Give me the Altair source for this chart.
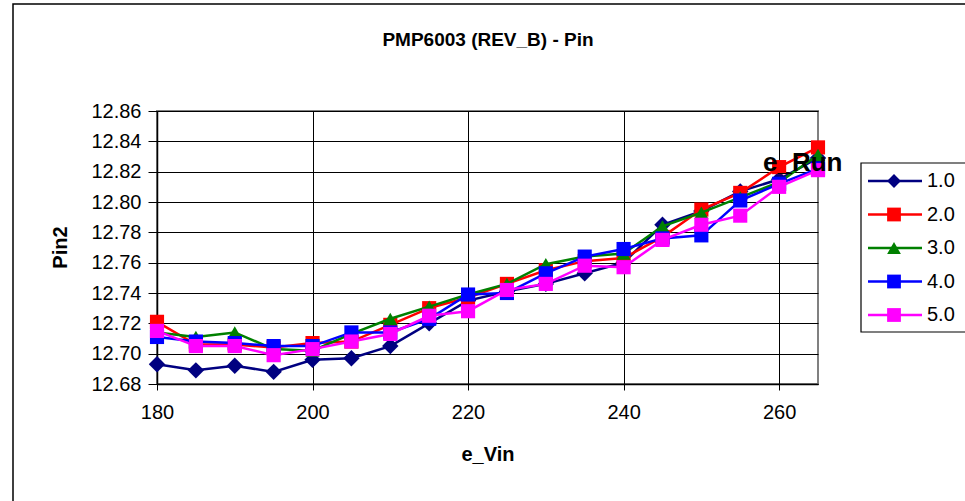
import altair as alt
import pandas as pd

vin = [180, 185, 190, 195, 200, 205, 210, 215, 220, 225, 230, 235, 240, 245, 250, 255, 260, 265]
run1 = [12.693, 12.689, 12.692, 12.688, 12.696, 12.697, 12.705, 12.720, 12.735, 12.741, 12.746, 12.753, 12.760, 12.785, 12.794, 12.807, 12.815, 12.829]
run2 = [12.721, 12.706, 12.706, 12.704, 12.707, 12.708, 12.719, 12.730, 12.737, 12.746, 12.755, 12.761, 12.763, 12.777, 12.795, 12.806, 12.823, 12.836]
run3 = [12.714, 12.711, 12.714, 12.703, 12.702, 12.713, 12.723, 12.731, 12.739, 12.746, 12.759, 12.764, 12.766, 12.784, 12.793, 12.803, 12.813, 12.831]
run4 = [12.711, 12.708, 12.707, 12.705, 12.705, 12.714, 12.714, 12.723, 12.739, 12.740, 12.753, 12.764, 12.769, 12.776, 12.778, 12.801, 12.812, 12.822]
run5 = [12.715, 12.705, 12.705, 12.699, 12.703, 12.708, 12.713, 12.725, 12.728, 12.742, 12.746, 12.758, 12.757, 12.775, 12.785, 12.791, 12.810, 12.821]

labels = ["1.0", "2.0", "3.0", "4.0", "5.0"]
colors = ["#000080", "#FF0000", "#008000", "#0000FF", "#FF00FF"]
shapes = ["diamond", "square", "triangle-up", "square", "square"]
sizes = [270, 200, 200, 200, 200]
series = [run1, run2, run3, run4, run5]

y_ticks = [12.68, 12.70, 12.72, 12.74, 12.76, 12.78, 12.80, 12.82, 12.84, 12.86]
x_ticks = [180, 200, 220, 240, 260]

title_text = "PMP6003 (REV_B) - Pin"
FONT = "Liberation Sans"

x_enc = alt.X("vin:Q",
              scale=alt.Scale(domain=[180, 265], nice=False, zero=False),
              axis=alt.Axis(values=x_ticks, title="e_Vin", grid=True, gridColor="#000000",
                            gridWidth=1, domainColor="#000000", domainWidth=1.5,
                            tickColor="#000000", tickSize=6, labelPadding=12,
                            labelFontSize=20, labelColor="#000000", titleFontSize=20,
                            titleFontWeight="bold", titleColor="#000000",
                            titleY=70, titleBaseline="middle", labelFlush=False))
y_enc = alt.Y("pin:Q",
              scale=alt.Scale(domain=[12.68, 12.86], nice=False, zero=False),
              axis=alt.Axis(values=y_ticks, format=".2f", title="Pin2", grid=True,
                            gridColor="#000000", gridWidth=1, domainColor="#000000",
                            domainWidth=1.5, tickColor="#000000", tickSize=9,
                            labelPadding=7, labelFontSize=20, labelColor="#000000",
                            titleFontSize=20, titleFontWeight="bold", titleColor="#000000",
                            titleX=-97, titleY=136, titleAngle=270, titleAlign="center",
                            titleBaseline="middle", labelFlush=False))

series_layers = []
for lab, col, shp, sz, vals in zip(labels, colors, shapes, sizes, series):
    df = pd.DataFrame({"vin": vin, "pin": vals})
    base = alt.Chart(df)
    series_layers.append(base.mark_line(color=col, strokeWidth=2.5).encode(x=x_enc, y=y_enc))
    series_layers.append(base.mark_point(shape=shp, filled=True, color=col, size=sz, opacity=1)
                         .encode(x=x_enc, y=y_enc))
main = alt.layer(*series_layers)

leg_df = pd.DataFrame({"label": labels})
leg_y = alt.Y("label:N", scale=alt.Scale(type="point", domain=labels, range=[70, 204], padding=0),
              axis=None)
leg_color = alt.Color("label:N", scale=alt.Scale(domain=labels, range=colors), legend=None)
leg_shape = alt.Shape("label:N", scale=alt.Scale(domain=labels, range=shapes), legend=None)
leg_base = alt.Chart(leg_df)
leg_box = alt.Chart(pd.DataFrame({"a": [0]})).mark_rect(
    fill="white", stroke="#000000", strokeWidth=1.2
).encode(x=alt.value(704), x2=alt.value(840), y=alt.value(52), y2=alt.value(221))
leg_lines = leg_base.mark_rule(strokeWidth=2.5).encode(
    x=alt.value(711), x2=alt.value(765), y=leg_y, color=leg_color)
leg_pts = leg_base.mark_point(filled=True, opacity=1, size=190).encode(
    x=alt.value(737), y=leg_y, color=leg_color, shape=leg_shape)
leg_text = leg_base.mark_text(align="left", baseline="middle", fontSize=20, font=FONT,
                              color="#000000").encode(
    x=alt.value(770), y=leg_y, text="label:N")
legend = alt.layer(leg_lines, leg_pts, leg_text)

frame = alt.Chart(pd.DataFrame({"a": [0]})).mark_rect(
    fill=None, stroke="#000000", strokeWidth=1.5
).encode(x=alt.value(-144), x2=alt.value(900), y=alt.value(-107), y2=alt.value(500))

erun = alt.Chart(pd.DataFrame({"t": ["e_Run"]})).mark_text(
    align="left", baseline="middle", fontSize=26, fontWeight="bold", font=FONT, color="#000000"
).encode(x=alt.value(606), y=alt.value(52), text="t:N")

title = alt.Chart(pd.DataFrame({"t": [title_text]})).mark_text(
    align="center", baseline="middle", fontSize=19, fontWeight="bold", font=FONT, color="#000000"
).encode(x=alt.value(331), y=alt.value(-71), text="t:N")

chart = alt.layer(frame, main, leg_box, legend, erun, title).resolve_scale(
    y="independent", color="independent", shape="independent"
).properties(
    width=661, height=273,
    autosize=alt.AutoSizeParams(type="none"),
    padding={"left": 157, "top": 111, "right": 147, "bottom": 117},
    background="white",
).configure_view(stroke="#808080", strokeWidth=2).configure_axis(
    labelFont=FONT, titleFont=FONT
)

chart.save("out.html", embed_options={"renderer": "svg", "actions": False})
